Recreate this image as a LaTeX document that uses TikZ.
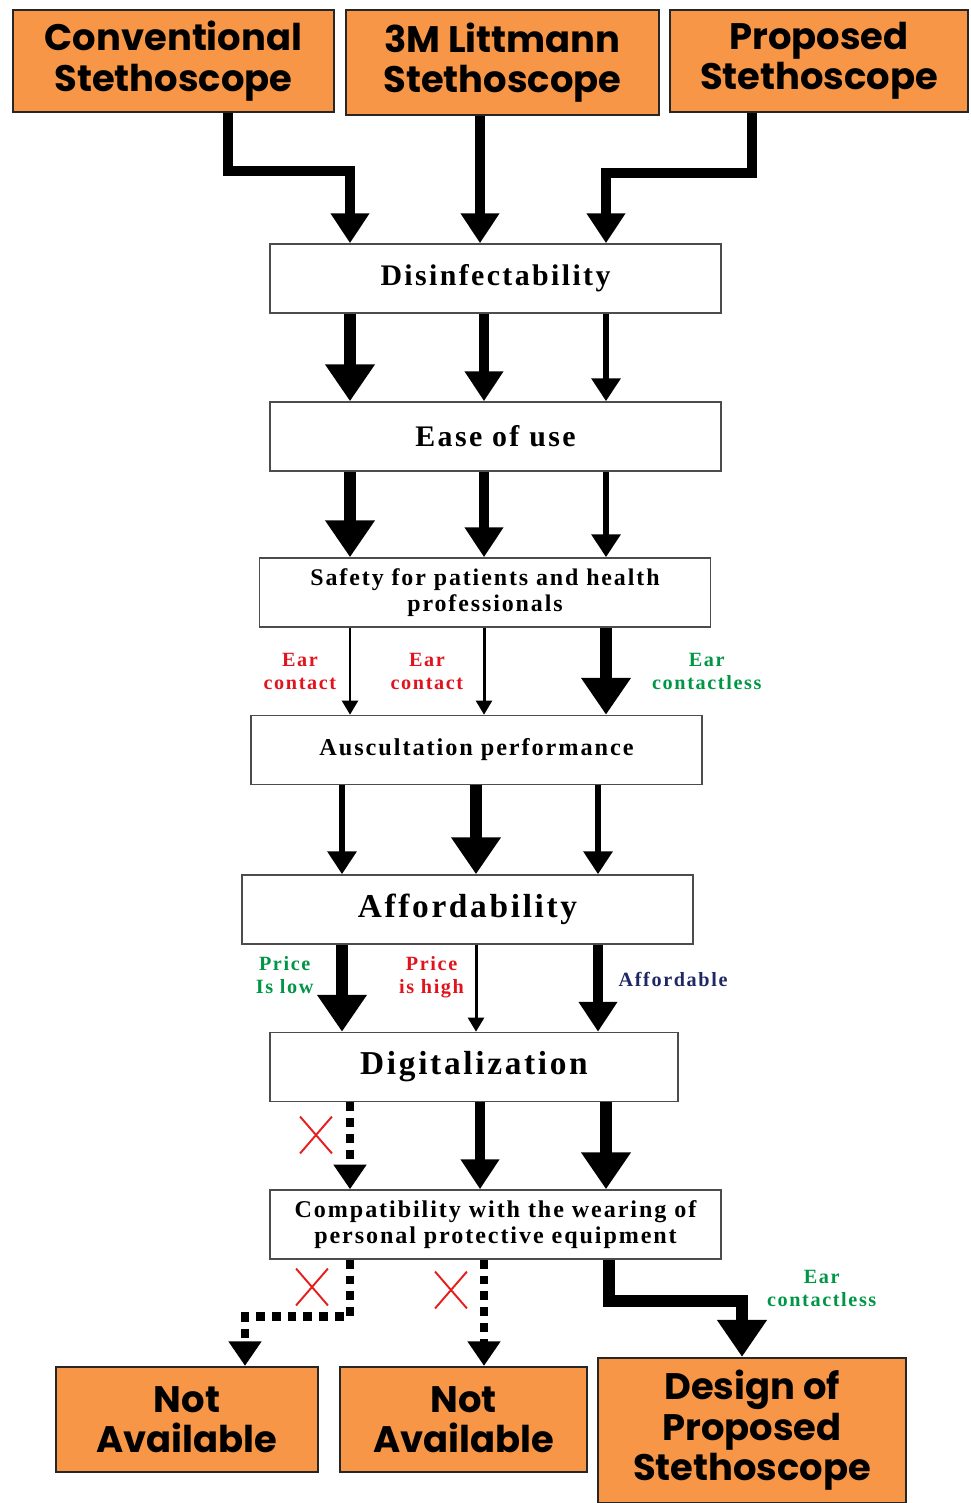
\documentclass[tikz,border=0pt]{standalone}
\usepackage{fontspec}
\usepackage{tikz}
\usetikzlibrary{arrows.meta, positioning, shapes.misc}
\setmainfont{Liberation Serif}
\newfontfamily\critfont{Liberation Serif}[LetterSpace=8]
\newfontfamily\stetfont{Poppins}
\definecolor{stetorange}{RGB}{247,150,70}
\definecolor{earred}{RGB}{225,20,30}
\definecolor{eargreen}{RGB}{0,150,70}
\definecolor{affnavy}{RGB}{30,40,100}
\definecolor{xred}{RGB}{230,30,30}

\begin{document}
\begin{tikzpicture}[
  x=0.02cm, y=-0.02cm,
  stet/.style={draw=black!85, fill=stetorange, line width=1.3pt, align=center,
               font=\stetfont\bfseries\fontsize{21}{23}\selectfont},
  crit/.style={draw=black!70, fill=white, line width=0.9pt, align=center,
               minimum width=9.02cm, minimum height=1.38cm},
  arrbig/.style={-{Triangle[length=21pt, width=27pt]}, line width=6.5pt},
  arrmid/.style={-{Triangle[length=17pt, width=21pt]}, line width=5.5pt},
  arrsm/.style={-{Triangle[length=13pt, width=16pt]}, line width=3.4pt},
  arrthin/.style={-{Triangle[length=8pt, width=9pt]}, line width=1.7pt},
  arrdot/.style={-{Triangle[length=14pt, width=18pt]}, line width=5pt,
                 dash pattern=on 5pt off 4pt},
  lbl/.style={font=\critfont\bfseries\fontsize{11.5}{13}\selectfont,
              align=center, inner sep=1pt},
  xmark/.style={cross out, draw=xred, line width=1.1pt, inner sep=0pt,
                minimum width=0.6cm, minimum height=0.7cm}
]
  \useasboundingbox (0,0) rectangle (970,1503);

  % stethoscopes compared
  \node[stet, minimum width=6.42cm, minimum height=2.04cm] (conv) at (173.5,61) {Conventional\\Stethoscope};
  \node[stet, minimum width=6.26cm, minimum height=2.1cm]  (litt) at (502.5,62.5) {3M Littmann\\Stethoscope};
  \node[stet, minimum width=5.96cm, minimum height=2.04cm] (prop) at (819,61) {Proposed\\Stethoscope};

  % criteria
  \node[crit, font=\critfont\bfseries\fontsize{17}{19}\selectfont]   (dis)  at (495.5,278.5) {Disinfectability};
  \node[crit, font=\critfont\bfseries\fontsize{17}{19}\selectfont]   (ease) at (495.5,436.5) {Ease of use};
  \node[crit, font=\critfont\bfseries\fontsize{13.6}{15}\selectfont] (safe) at (485,592.5)   {Safety for patients and health\\professionals};
  \node[crit, font=\critfont\bfseries\fontsize{13.8}{15}\selectfont] (ausc) at (476.5,750)   {Auscultation performance};
  \node[crit, font=\critfont\bfseries\fontsize{19}{21}\selectfont]   (aff)  at (467.5,909.5) {Affordability};
  \node[crit, minimum width=8.16cm, font=\critfont\bfseries\fontsize{19}{21}\selectfont] (dig) at (474,1067) {Digitalization};
  \node[crit, font=\critfont\bfseries\fontsize{13.7}{15}\selectfont] (comp) at (495.5,1224.5) {Compatibility with the wearing of\\personal protective equipment};

  % outcomes
  \node[stet, minimum width=5.24cm, minimum height=2.1cm] (na1) at (187,1419.5)   {Not\\Available};
  \node[stet, minimum width=4.94cm, minimum height=2.1cm] (na2) at (463.5,1419.5) {Not\\Available};
  \node[stet, minimum width=6.16cm, minimum height=2.9cm] (des) at (752,1430.5)   {Design of\\Proposed\\Stethoscope};

  % arrow columns
  \coordinate (t1) at (228,0);
  \coordinate (t2) at (480,0);
  \coordinate (t3) at (752,0);
  \coordinate (c1) at (350,0);
  \coordinate (c2) at (484,0);
  \coordinate (c3) at (606,0);
  \coordinate (d1) at (342,0);
  \coordinate (d2) at (476,0);
  \coordinate (d3) at (598,0);
  \coordinate (e1) at (245,0);
  \coordinate (e3) at (609,0);
  \coordinate (f3) at (742,0);

  \draw[arrmid] (conv.south -| t1) -- ++(0,58) -| (dis.north -| c1);
  \draw[arrmid] (litt.south -| t2) -- (dis.north -| t2);
  \draw[arrmid] (prop.south -| t3) -- ++(0,60) -| (dis.north -| c3);

  \draw[arrbig] (dis.south -| c1) -- (ease.north -| c1);
  \draw[arrmid] (dis.south -| c2) -- (ease.north -| c2);
  \draw[arrsm]  (dis.south -| c3) -- (ease.north -| c3);

  \draw[arrbig] (ease.south -| c1) -- (safe.north -| c1);
  \draw[arrmid] (ease.south -| c2) -- (safe.north -| c2);
  \draw[arrsm]  (ease.south -| c3) -- (safe.north -| c3);

  \draw[arrthin] (safe.south -| c1) -- node[lbl, text=earred, left=6pt] {Ear\\contact} (ausc.north -| c1);
  \draw[arrthin] (safe.south -| c2) -- node[lbl, text=earred, left=10pt] {Ear\\contact} (ausc.north -| c2);
  \draw[arrbig]  (safe.south -| c3) -- node[lbl, text=eargreen, right=22pt] {Ear\\contactless} (ausc.north -| c3);

  \draw[arrsm]  (ausc.south -| d1) -- (aff.north -| d1);
  \draw[arrbig] (ausc.south -| d2) -- (aff.north -| d2);
  \draw[arrsm]  (ausc.south -| d3) -- (aff.north -| d3);

  \draw[arrbig]  (aff.south -| d1) -- node[lbl, text=eargreen, left=12pt, pos=0.35] {Price\\Is low} (dig.north -| d1);
  \draw[arrthin] (aff.south -| d2) -- node[lbl, text=earred, left=5pt, pos=0.37] {Price\\is high} (dig.north -| d2);
  \draw[arrmid]  (aff.south -| d3) -- node[lbl, text=affnavy, right=8pt, pos=0.4] {Affordable} (dig.north -| d3);

  \draw[arrdot] (dig.south -| c1) -- (comp.north -| c1);
  \draw[arrmid] (dig.south -| t2) -- (comp.north -| t2);
  \draw[arrbig] (dig.south -| c3) -- (comp.north -| c3);
  \node[xmark] (x1) at (316,1135) {};

  \draw[arrdot] (comp.south -| c1) -- ++(0,57) -| (na1.north -| e1);
  \draw[arrdot] (comp.south -| c2) -- (na2.north -| c2);
  \draw[arrbig] (comp.south -| e3) -- ++(0,41) -| node[pos=0.5, lbl, text=eargreen, anchor=west, xshift=10pt, yshift=7pt] {Ear\\contactless} (des.north -| f3);
  \node[xmark] (x2) at (312,1287) {};
  \node[xmark] (x3) at (451,1290) {};
\end{tikzpicture}
\end{document}
